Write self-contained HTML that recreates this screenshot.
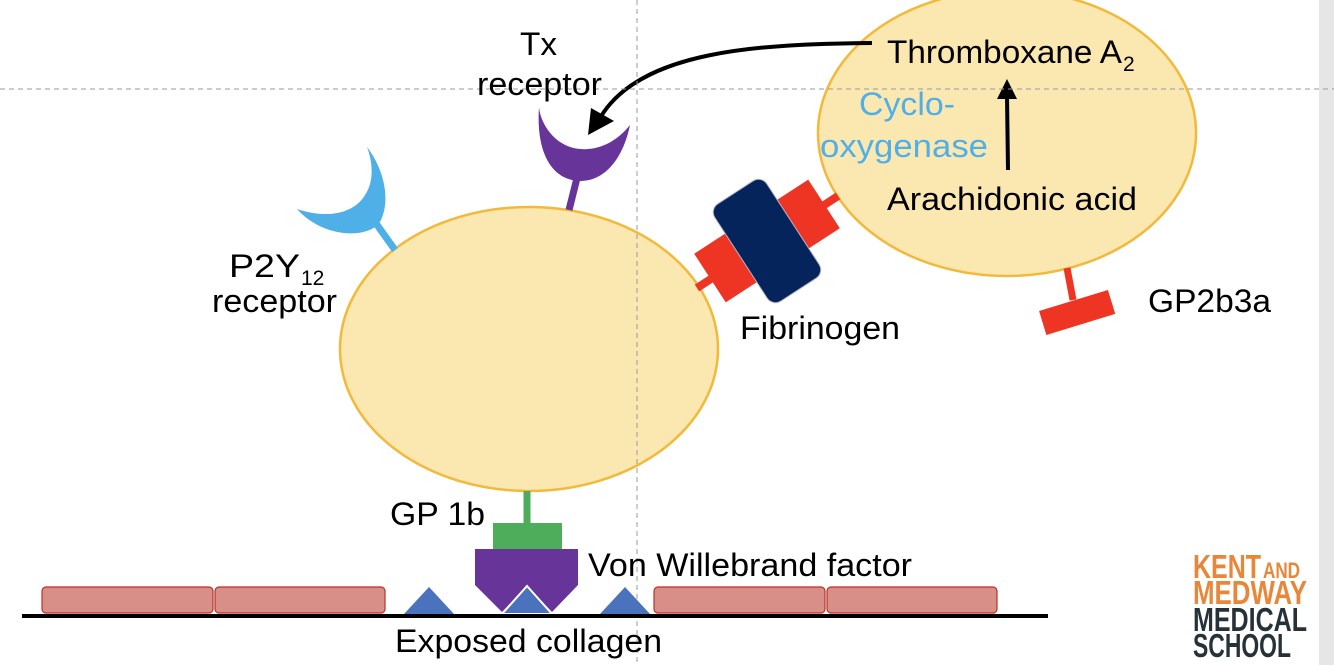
<!DOCTYPE html>
<html><head><meta charset="utf-8"><style>
html,body{margin:0;padding:0;background:#fff;}
svg{display:block;}
text{font-family:"Liberation Sans",Arial,sans-serif;}
</style></head><body>
<svg width="1334" height="665" viewBox="0 0 1334 665" xmlns="http://www.w3.org/2000/svg">
<rect x="1319" y="0" width="15" height="665" fill="#e6e6e6"/>
<ellipse cx="1007" cy="133" rx="189" ry="143" fill="#FBE7B0" stroke="#F2B93B" stroke-width="2.5"/>
<ellipse cx="529" cy="349" rx="189" ry="142" fill="#FBE7B0" stroke="#F2B93B" stroke-width="2.5"/>
<line x1="697" y1="288" x2="838" y2="196" stroke="#EE3524" stroke-width="8"/>
<g transform="translate(767,241) rotate(-33)">
<rect x="-68" y="-29" width="136" height="58" fill="#EE3524"/>
<rect x="-31" y="-58" width="62" height="116" rx="10" fill="#06245C" stroke="#b7b7c7" stroke-width="1"/>
</g>
<line x1="1067" y1="268" x2="1073" y2="300" stroke="#EE3524" stroke-width="7"/>
<g transform="translate(1077,312) rotate(-17)"><rect x="-36" y="-12" width="72" height="25" fill="#EE3524"/></g>
<line x1="577" y1="178" x2="569" y2="210" stroke="#673499" stroke-width="7"/>
<path d="M539,107 C536,150 550,180 580,181 C610,181 625,150 630,125 C610,150 585,152 570,147 C550,140 540,120 539,107 Z" fill="#673499"/>
<line x1="375" y1="222" x2="395" y2="250" stroke="#4FB0E8" stroke-width="7"/>
<path d="M367,147 C385,170 392,205 378,225 C360,240 320,235 297,209 C330,220 355,212 365,195 C375,180 372,160 367,147 Z" fill="#4FB0E8"/>
<path d="M872,43 C760,44 640,50 600,118" fill="none" stroke="#000" stroke-width="4"/>
<polygon points="588,135 591,108 614,121" fill="#000"/>
<line x1="1008" y1="170" x2="1007" y2="96" stroke="#000" stroke-width="4"/>
<polygon points="1007,79 997,99 1017,99" fill="#000"/>
<line x1="0" y1="89" x2="1334" y2="89" stroke="#9a9a9a" stroke-width="1" stroke-dasharray="5,4"/>
<line x1="637" y1="0" x2="637" y2="665" stroke="#9a9a9a" stroke-width="1" stroke-dasharray="5,4"/>
<line x1="527" y1="491" x2="527" y2="523" stroke="#4DAD5B" stroke-width="7"/>
<rect x="493" y="523" width="69" height="26" fill="#4DAD5B"/>
<g fill="#D88F87" stroke="#B83226" stroke-width="1.2">
<rect x="42" y="587" width="171" height="26" rx="4"/>
<rect x="215" y="587" width="170" height="26" rx="4"/>
<rect x="654" y="587" width="171" height="26" rx="4"/>
<rect x="827" y="587" width="170" height="26" rx="4"/>
</g>
<polygon points="404,614 429,587 454,614" fill="#4A72BD"/>
<polygon points="600,614 625,587 650,614" fill="#4A72BD"/>
<polygon points="475,549 578,549 578,585 552,612 527,586 502,612 475,585" fill="#673499"/>
<polygon points="502,614 527,586 552,614" fill="#4A72BD" stroke="#fff" stroke-width="2"/>
<line x1="22" y1="616" x2="1048" y2="616" stroke="#000" stroke-width="4"/>
<g font-size="32" fill="#000">
<text x="520" y="55" textLength="37" lengthAdjust="spacingAndGlyphs">Tx</text>
<text x="477" y="95" textLength="125" lengthAdjust="spacingAndGlyphs">receptor</text>
<text x="887" y="63" textLength="235" lengthAdjust="spacingAndGlyphs">Thromboxane A</text>
<text x="1123" y="71" font-size="21">2</text>
<text x="887" y="210" textLength="250" lengthAdjust="spacingAndGlyphs">Arachidonic acid</text>
<text x="1148" y="312" textLength="123" lengthAdjust="spacingAndGlyphs">GP2b3a</text>
<text x="740" y="339" textLength="160" lengthAdjust="spacingAndGlyphs">Fibrinogen</text>
<text x="229" y="277" textLength="71" lengthAdjust="spacingAndGlyphs">P2Y</text>
<text x="301" y="285" font-size="21">12</text>
<text x="212" y="312" textLength="125" lengthAdjust="spacingAndGlyphs">receptor</text>
<text x="390" y="525" textLength="95" lengthAdjust="spacingAndGlyphs">GP 1b</text>
<text x="588" y="576" textLength="324" lengthAdjust="spacingAndGlyphs">Von Willebrand factor</text>
<text x="395" y="652" textLength="267" lengthAdjust="spacingAndGlyphs">Exposed collagen</text>
</g>
<g font-size="32" fill="#4FB0E8">
<text x="859" y="115" textLength="96" lengthAdjust="spacingAndGlyphs">Cyclo-</text>
<text x="820" y="157" textLength="168" lengthAdjust="spacingAndGlyphs">oxygenase</text>
</g>
<g font-weight="bold" font-size="33">
<text x="1193" y="578" fill="#E8873A" textLength="68" lengthAdjust="spacingAndGlyphs">KENT</text>
<text x="1263" y="578" font-size="22" fill="#E8873A" textLength="37" lengthAdjust="spacingAndGlyphs">AND</text>
<text x="1193" y="604" fill="#E8873A" textLength="114" lengthAdjust="spacingAndGlyphs">MEDWAY</text>
<text x="1193" y="631" fill="#263238" textLength="114" lengthAdjust="spacingAndGlyphs">MEDICAL</text>
<text x="1193" y="657" fill="#263238" textLength="98" lengthAdjust="spacingAndGlyphs">SCHOOL</text>
</g>
</svg>
</body></html>
